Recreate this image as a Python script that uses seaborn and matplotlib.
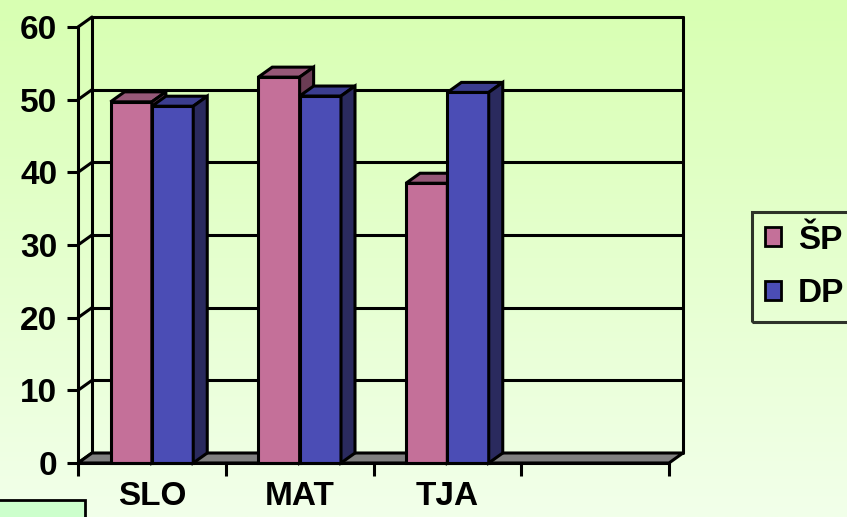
import numpy as np
import pandas as pd
import matplotlib
matplotlib.use("Agg")
import matplotlib.pyplot as plt
import seaborn as sns
from matplotlib.patches import Polygon, Rectangle

# ---- data ----
categories = ["SLO", "MAT", "TJA", ""]
series = ["ŠP", "DP"]
sp_values = [49.7, 53.1, 38.5]
dp_values = [49.1, 50.5, 51.0]
y_ticks = [0, 10, 20, 30, 40, 50, 60]

rows = []
for cat, v in zip(categories[:3], sp_values):
    rows.append((cat, series[0], v))
for cat, v in zip(categories[:3], dp_values):
    rows.append((cat, series[1], v))
df = pd.DataFrame(rows, columns=["predmet", "skupina", "vrednost"])

front_cols = {"ŠP": "#C47099", "DP": "#4B4DB5"}
top_cols = {"ŠP": "#965878", "DP": "#3B3D8F"}
side_cols = {"ŠP": "#6A3C54", "DP": "#2A2A5E"}

sns.set_theme(style="white")
plt.rcParams["font.family"] = ["Liberation Sans", "DejaVu Sans"]
plt.rcParams["font.weight"] = "bold"
plt.rcParams["text.color"] = "black"

W, H = 847, 517
FS = 24
fig = plt.figure(figsize=(W / 100, H / 100), dpi=100)

# gradient background
bg = fig.add_axes([0, 0, 1, 1], zorder=-10)
g = np.linspace(0, 1, 256)[:, None, None]
c_top = np.array([216, 255, 178]) / 255
c_bot = np.array([242, 255, 234]) / 255
img = c_top * (1 - g) + c_bot * g
bg.imshow(img, aspect="auto", extent=[0, 1, 0, 1], origin="upper")
bg.axis("off")

ax = fig.add_axes([78 / W, (H - 463) / H, (669 - 78) / W, (463 - 27) / H])
ax.set_facecolor("none")

sns.barplot(data=df, x="predmet", y="vrednost", hue="skupina", order=categories,
            hue_order=series, palette=[front_cols[s] for s in series], width=0.56,
            edgecolor="black", linewidth=2.2, saturation=1, errorbar=None, ax=ax)

ax.set_xlim(-0.5, 3.5)
ax.set_ylim(0, 60)

LW = 2.2
dx = 14 * (ax.get_xlim()[1] - ax.get_xlim()[0]) / ax.bbox.width
dy = 10 * (ax.get_ylim()[1] - ax.get_ylim()[0]) / ax.bbox.height
x0a, x1a = ax.get_xlim()

# back wall / left wall lines
for v in y_ticks:
    if v > 0:
        ax.plot([x0a + dx, x1a + dx], [v + dy, v + dy], color="black", lw=LW, zorder=1, clip_on=False)
    ax.plot([x0a, x0a + dx], [v, v + dy], color="black", lw=LW, zorder=1, clip_on=False)
ax.plot([x0a + dx, x0a + dx], [dy, 60 + dy], color="black", lw=LW, zorder=1, clip_on=False)
ax.plot([x1a + dx, x1a + dx], [dy, 60 + dy], color="black", lw=LW, zorder=1, clip_on=False)

# floor
ax.add_patch(Polygon([(x0a, 0), (x1a, 0), (x1a + dx, dy), (x0a + dx, dy)], closed=True,
                     fc="#808080", ec="black", lw=LW, zorder=2, clip_on=False, joinstyle="miter"))

# 3D faces for bars
for p in list(ax.patches):
    if not isinstance(p, Rectangle):
        continue
    h = p.get_height()
    if not np.isfinite(h) or h <= 0:
        continue
    x0, w = p.get_x(), p.get_width()
    xc = x0 + w / 2
    s = "ŠP" if xc < round(xc) else "DP"
    z = 3 if s == "ŠP" else 4
    p.set_zorder(z)
    p.set_clip_on(False)
    top = Polygon([(x0, h), (x0 + w, h), (x0 + w + dx, h + dy), (x0 + dx, h + dy)], closed=True,
                  fc=top_cols[s], ec="black", lw=LW, zorder=z, clip_on=False)
    side = Polygon([(x0 + w, 0), (x0 + w + dx, dy), (x0 + w + dx, h + dy), (x0 + w, h)], closed=True,
                   fc=side_cols[s], ec="black", lw=LW, zorder=z, clip_on=False)
    ax.add_patch(top)
    ax.add_patch(side)

# axes / ticks
for sp in ["top", "right"]:
    ax.spines[sp].set_visible(False)
for sp in ["left", "bottom"]:
    ax.spines[sp].set_color("black")
    ax.spines[sp].set_linewidth(LW)
    ax.spines[sp].set_zorder(5)
ax.set_yticks(y_ticks)
ax.set_yticklabels([str(v) for v in y_ticks])
ax.set_xticks([-0.5, 0.5, 1.5, 2.5, 3.5])
ax.set_xticklabels([])
ax.set_xticks([0, 1, 2, 3], minor=True)
ax.set_xticklabels(categories, minor=True)
ax.tick_params(axis="y", direction="out", length=8, width=LW, color="black", pad=7,
               labelsize=FS, left=True)
ax.tick_params(axis="x", which="major", direction="out", length=9, width=LW, color="black", bottom=True)
ax.tick_params(axis="x", which="minor", length=0, pad=13, labelsize=FS)
for t in ax.get_yticklabels() + ax.get_xticklabels(minor=True):
    t.set_fontweight("bold")
    t.set_color("black")
ax.set_xlabel("")
ax.set_ylabel("")

# legend
sns.move_legend(ax, "upper left", bbox_to_anchor=(752 / W, 1 - 212 / H), bbox_transform=fig.transFigure,
                title=None, frameon=True, fancybox=False, fontsize=FS, handlelength=0.5,
                handleheight=0.5, handletextpad=0.5, borderpad=0.38, labelspacing=0.68,
                borderaxespad=0)
leg = ax.get_legend()
leg.get_frame().set_edgecolor("black")
leg.get_frame().set_linewidth(LW)
leg.get_frame().set_facecolor("none")
for p in leg.get_patches():
    p.set_edgecolor("black")
    p.set_linewidth(2)
for t in leg.get_texts():
    t.set_fontweight("bold")
    t.set_color("black")

# partial box at bottom-left
fig.add_artist(Rectangle((-0.01, -0.1), 0.01 + 85 / W, 0.1 + 17 / H, transform=fig.transFigure,
                         fc="#CCFFCC", ec="black", lw=2, zorder=20))

fig.savefig("out.png", dpi=100)
